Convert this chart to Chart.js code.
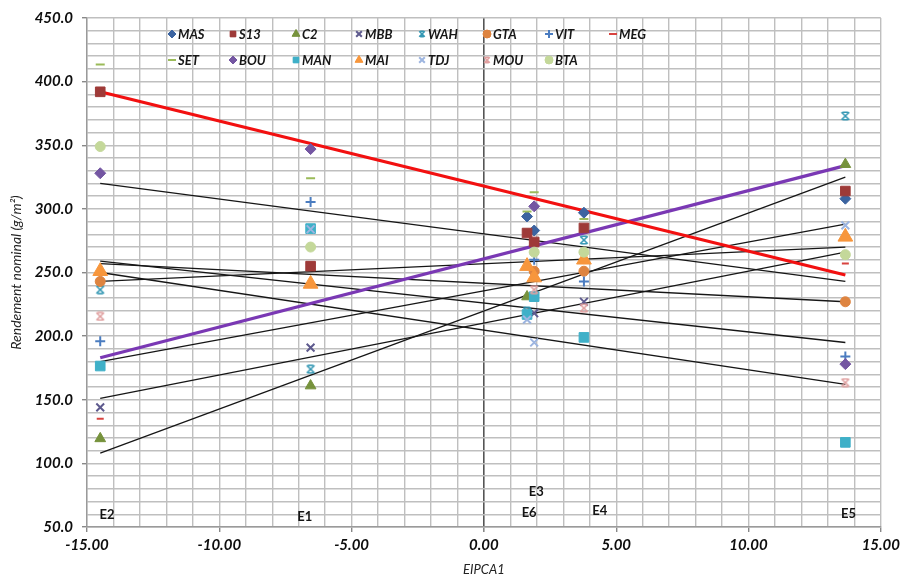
<!DOCTYPE html>
<html>
<head>
<meta charset="utf-8">
<script src="https://cdn.jsdelivr.net/npm/chart.js@4.4.1/dist/chart.umd.min.js"></script>
<style>
html, body { margin: 0; padding: 0; background: #fff; }
#wrap { width: 904px; height: 578px; position: relative; }
</style>
</head>
<body>
<div id="wrap"><canvas id="chart"></canvas></div>
<script>
// environments and their EIPCA1 score
const envNames = ["E2", "E1", "E6", "E3", "E4", "E5"];
const envScores = [-14.5, -6.55, 1.63, 1.9, 3.78, 13.66];

const genotypes = ["MAS", "S13", "C2", "MBB", "WAH", "GTA", "VIT", "MEG",
                   "SET", "BOU", "MAN", "MAI", "TDJ", "MOU", "BTA"];

// rendement nominal (g/m2) per environment, in envNames order
// null = mark hidden under another one in the picture
const MAS = [null, null, 294, 283, 297, 308];
const S13 = [392, 255, 281, 274, 285, 314];
const C2  = [119.5, 161, 231, null, null, 335];
const MBB = [144, 191, null, 218, 227, null];
const WAH = [236.5, 174, 219.5, null, 275.5, 373];
const GTA = [243, null, null, 251, 251, 227];
const VIT = [196, 305.5, null, 260, 243, 184];
const MEG = [135, null, null, null, null, 257];
const SET = [413.5, 324, 298, 313, 292, null];
const BOU = [328, 347, null, 302, null, 178];
const MAN = [176.5, 284.5, 217, 231, 199, 116.5];
const MAI = [251, 241, 255, 246, 260, 278];
const TDJ = [null, 284, 213, 195, null, 287];
const MOU = [215.5, null, null, 236.5, 222, 163.5];
const BTA = [349, 270, null, 266, 266, 264];

const yields = [MAS, S13, C2, MBB, WAH, GTA, VIT, MEG, SET, BOU, MAN, MAI, TDJ, MOU, BTA];

// regression lines: value at E2 score and at E5 score
const trendStart = [392, 183, 320, 108, 180, 151, 243, 257, 250, 259];
const trendEnd   = [248, 334, 243, 325, 288, 266, 270, 227, 162, 195];

// ---- styles ----
function hourglass(color, size) {
    const c = document.createElement("canvas");
    c.width = size; c.height = size;
    const g = c.getContext("2d");
    g.strokeStyle = color;
    g.lineWidth = 1.6;
    const p = 1.2, q = size - 1.2;
    g.beginPath();
    g.moveTo(p, p); g.lineTo(q, q);
    g.moveTo(q, p); g.lineTo(p, q);
    g.moveTo(p + 1, p); g.lineTo(q - 1, p);
    g.moveTo(p + 1, q); g.lineTo(q - 1, q);
    g.stroke();
    return c;
}

const colors = ["#3C64A0", "#9E3A38", "#76923C", "#5E5A8E", "#3598B4", "#DE8440", "#4A7CC0", "#D8433F",
                "#9BBB59", "#7456A2", "#3FB0C8", "#F7963C", "#9DB5E0", "#E0A0A0", "#C4D89A"];
const styles = ["rectRot", "rect", "triangle", "crossRot", "hg", "circle", "cross", "line",
                "line", "rectRot", "rect", "triangle", "crossRot", "hg", "circle"];
const radii = [5.5, 6.8, 6.2, 5.5, 5, 5, 5, 3.5, 4.5, 5.5, 6.8, 8.5, 5.5, 5, 5];
const stroked = ["crossRot", "cross", "line"];

function markerStyle(i, size) {
    return styles[i] === "hg" ? hourglass(colors[i], size) : styles[i];
}

const trendColors = ["#F21010", "#7A38B4", "#161616", "#161616", "#161616", "#161616", "#161616", "#161616", "#161616", "#161616"];
const trendWidths = [3.2, 3.2, 1.3, 1.3, 1.3, 1.3, 1.3, 1.3, 1.3, 1.3];

const datasets = [];

genotypes.forEach((name, i) => {
    const pts = [];
    yields[i].forEach((v, k) => {
        if (v !== null) pts.push({ x: envScores[k], y: v });
    });
    datasets.push({
        type: "scatter",
        label: name,
        data: pts,
        pointStyle: markerStyle(i, 10),
        pointRadius: radii[i],
        pointHoverRadius: radii[i],
        backgroundColor: colors[i],
        borderColor: colors[i],
        borderWidth: stroked.includes(styles[i]) ? 2 : 1,
        order: 100 - i,
    });
});

trendStart.forEach((v, k) => {
    datasets.push({
        type: "line",
        label: "trend" + k,
        data: [{ x: envScores[0], y: v }, { x: envScores[envScores.length - 1], y: trendEnd[k] }],
        borderColor: trendColors[k],
        borderWidth: trendWidths[k],
        pointRadius: 0,
        fill: false,
        order: k < 2 ? 150 : 200,
    });
});

// environment names near the bottom of the plot
const envLabelPos = [[-14.24, 59.5], [-6.77, 57.8], [1.71, 61], [1.98, 78], [4.38, 62.5], [13.78, 60]];

const envLabels = {
    id: "envLabels",
    afterDatasetsDraw(chart) {
        const { ctx, scales } = chart;
        ctx.save();
        ctx.font = "bold 13px Lato";
        ctx.fillStyle = "#141414";
        ctx.textAlign = "center";
        ctx.textBaseline = "middle";
        envNames.forEach((n, k) => {
            ctx.fillText(n, scales.x.getPixelForValue(envLabelPos[k][0]), scales.y.getPixelForValue(envLabelPos[k][1]));
        });
        ctx.restore();
    },
};

// legend drawn inside the plot, two rows of eight
const legendCols = [172, 233, 296, 359, 422, 487, 549, 613];
const legendRows = [34, 60];

const insideLegend = {
    id: "insideLegend",
    afterDraw(chart) {
        const ctx = chart.ctx;
        ctx.save();
        genotypes.forEach((name, i) => {
            const x = legendCols[i % 8];
            const y = legendRows[Math.floor(i / 8)];
            ctx.fillStyle = colors[i];
            ctx.strokeStyle = colors[i];
            ctx.lineWidth = stroked.includes(styles[i]) ? 2 : 1;
            Chart.helpers.drawPoint(ctx, {
                pointStyle: markerStyle(i, 8),
                radius: styles[i] === "triangle" ? 4.5 : 4,
                rotation: 0,
                borderWidth: ctx.lineWidth,
            }, x, y);
            if (!stroked.includes(styles[i])) ctx.fill();
            ctx.font = "italic bold 13px Lato";
            ctx.fillStyle = "#161616";
            ctx.textAlign = "left";
            ctx.textBaseline = "middle";
            ctx.fillText(name, x + 6, y + 1);
        });
        ctx.restore();
    },
};

new Chart(document.getElementById("chart"), {
    type: "scatter",
    data: { datasets: datasets },
    plugins: [envLabels, insideLegend],
    options: {
        responsive: true,
        maintainAspectRatio: false,
        animation: false,
        layout: { padding: { top: 15, right: 21, left: 0, bottom: 0 } },
        plugins: {
            legend: { display: false },
            tooltip: { enabled: false },
        },
        scales: {
            x: {
                type: "linear",
                min: -15,
                max: 15,
                afterFit(s) { s.height = 51; },
                ticks: {
                    stepSize: 1,
                    autoSkip: false,
                    maxRotation: 0,
                    padding: 4,
                    color: "#0d0d0d",
                    font: { family: "Lato", size: 15, style: "italic", weight: "bold" },
                    callback: (v) => (v % 5 === 0 ? v.toFixed(2) : ""),
                },
                grid: {
                    color: (c) => (c.tick && c.tick.value === 0 ? "#555" : "#bfbfbf"),
                    lineWidth: (c) => (c.tick && c.tick.value === 0 ? 1.6 : 1.4),
                    tickLength: 5,
                    tickColor: (c) => (c.tick && c.tick.value % 5 === 0 ? "#888" : "rgba(0,0,0,0)"),
                },
                border: { color: "#9a9a9a", width: 1.4 },
                title: {
                    display: true,
                    text: "EIPCA1",
                    color: "#222",
                    padding: { top: 2, bottom: 0 },
                    font: { family: "Lato", size: 13, style: "italic" },
                },
            },
            y: {
                min: 50,
                max: 450,
                afterFit(s) { s.width = 87; },
                ticks: {
                    stepSize: 10,
                    autoSkip: false,
                    padding: 9,
                    color: "#0d0d0d",
                    font: { family: "Lato", size: 15, style: "italic", weight: "bold" },
                    callback: (v) => (v % 50 === 0 ? v.toFixed(1) : ""),
                },
                grid: {
                    color: "#bfbfbf",
                    lineWidth: 1.4,
                    tickLength: 5,
                    tickColor: (c) => (c.tick && c.tick.value % 50 === 0 ? "#888" : "rgba(0,0,0,0)"),
                },
                border: { color: "#9a9a9a", width: 1.4 },
                title: {
                    display: true,
                    text: "Rendement nominal (g/m²)",
                    color: "#222",
                    padding: { top: 8, bottom: 0 },
                    font: { family: "Lato", size: 14, style: "italic" },
                },
            },
        },
    },
});
</script>
</body>
</html>
